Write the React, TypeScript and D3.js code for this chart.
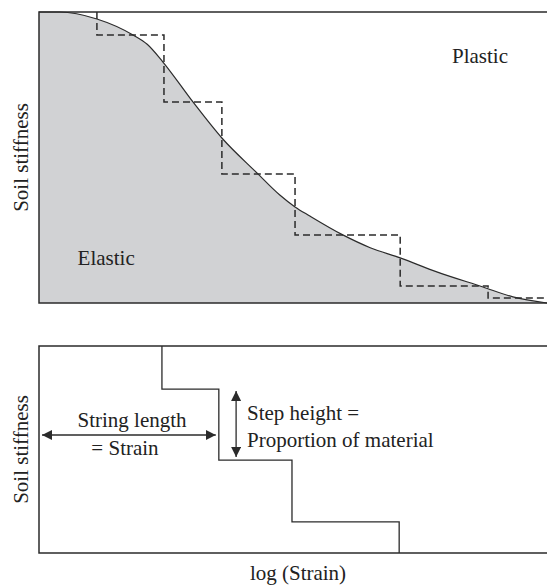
import * as d3 from 'd3';

// top panel: smooth stiffness degradation curve (x = log strain, arbitrary units)
const curveStrain = [0, 0.41, 1.14, 1.85, 2.13, 2.44, 3.03, 3.6, 4.29, 4.74, 5.04, 5.33, 5.98, 6.52, 7.11, 7.83, 8.74, 9.33, 10];
const curveStiffness = [1, 1, 0.976, 0.921, 0.889, 0.828, 0.691, 0.567, 0.447, 0.371, 0.33, 0.299, 0.234, 0.19, 0.155, 0.107, 0.055, 0.021, 0];

// dashed step approximation (stepAfter)
const stepStrain = [1.14, 1.14, 2.46, 3.6, 5.04, 7.11, 8.84, 10];
const stepStiffness = [1, 0.921, 0.691, 0.443, 0.234, 0.058, 0.017, 0.017];

// bottom panel: strings model
const stringStrain = [2.42, 2.42, 3.54, 4.98, 7.09];
const stringStiffness = [1, 0.792, 0.449, 0.15, 0];

const W = 547;
const H = 586;
const ink = '#2b2b2b';

const App = () => {
  const x = d3.scaleLinear().domain([0, 10]).range([39, 547]);
  const yTop = d3.scaleLinear().domain([0, 1]).range([303, 12]);
  const yBot = d3.scaleLinear().domain([0, 1]).range([553, 346]);

  const curvePts = curveStrain.map((s, i) => [s, curveStiffness[i]] as [number, number]);
  const area = d3.area<[number, number]>()
    .x(d => x(d[0])).y0(yTop(0)).y1(d => yTop(d[1]))
    .curve(d3.curveMonotoneX);
  const line = d3.line<[number, number]>()
    .x(d => x(d[0])).y(d => yTop(d[1]))
    .curve(d3.curveMonotoneX);
  const stepLine = d3.line<[number, number]>()
    .x(d => x(d[0])).y(d => yTop(d[1]))
    .curve(d3.curveStepAfter);
  const stepPts = stepStrain.map((s, i) => [s, stepStiffness[i]] as [number, number]);
  const botLine = d3.line<[number, number]>()
    .x(d => x(d[0])).y(d => yBot(d[1]))
    .curve(d3.curveStepAfter);
  const botPts = stringStrain.map((s, i) => [s, stringStiffness[i]] as [number, number]);

  const txt = { fontFamily: '"Liberation Serif"', fontSize: '21px' };

  return (
    <svg width={W} height={H} style={{ position: 'absolute', left: 0, top: 0, background: '#fff' }}>
      <defs>
        <marker id="ah" viewBox="0 0 10 10" refX="10" refY="5" markerWidth="10" markerHeight="10"
          markerUnits="userSpaceOnUse" orient="auto-start-reverse">
          <path d="M0,0 L10,5 L0,10 z" fill={ink} />
        </marker>
      </defs>

      {/* top panel */}
      <path d={area(curvePts) ?? ''} fill="#d1d2d4" />
      <path d={line(curvePts) ?? ''} fill="none" stroke={ink} strokeWidth={1.2} />
      <path d={stepLine(stepPts) ?? ''} fill="none" stroke={ink} strokeWidth={1.5} strokeDasharray="7,4" />
      <path d={`M${W + 2},${yTop(1)}H${x(0)}V${yTop(0)}H${W + 2}`} fill="none" stroke={ink} strokeWidth={1.5} />

      {/* bottom panel */}
      <path d={botLine(botPts) ?? ''} fill="none" stroke={ink} strokeWidth={1.3} />
      <path d={`M${W + 2},${yBot(1)}H${x(0)}V${yBot(0)}H${W + 2}`} fill="none" stroke={ink} strokeWidth={1.5} />
      <line x1={x(0.06)} x2={x(3.48)} y1={435} y2={435} stroke={ink} strokeWidth={1.3}
        markerStart="url(#ah)" markerEnd="url(#ah)" />
      <line x1={x(3.88)} x2={x(3.88)} y1={yBot(0.783)} y2={yBot(0.464)} stroke={ink} strokeWidth={1.3}
        markerStart="url(#ah)" markerEnd="url(#ah)" />

      <text style={txt} fill="#222" x={x(0.76)} y={265}>Elastic</text>
      <text style={txt} fill="#222" x={x(8.13)} y={63}>Plastic</text>
      <text style={txt} fill="#222" transform={`translate(28,${(yTop(0) + yTop(1)) / 2}) rotate(-90)`} textAnchor="middle">Soil stiffness</text>
      <text style={txt} fill="#222" x={132} y={427} textAnchor="middle">String length</text>
      <text style={txt} fill="#222" x={125} y={455} textAnchor="middle">= Strain</text>
      <text style={txt} fill="#222" x={247} y={420}>Step height =</text>
      <text style={txt} fill="#222" x={247} y={447}>Proportion of material</text>
      <text style={txt} fill="#222" transform={`translate(28,${(yBot(0) + yBot(1)) / 2}) rotate(-90)`} textAnchor="middle">Soil stiffness</text>
      <text style={txt} fill="#222" x={298} y={580} textAnchor="middle">log (Strain)</text>
    </svg>
  );
};

export default App;
